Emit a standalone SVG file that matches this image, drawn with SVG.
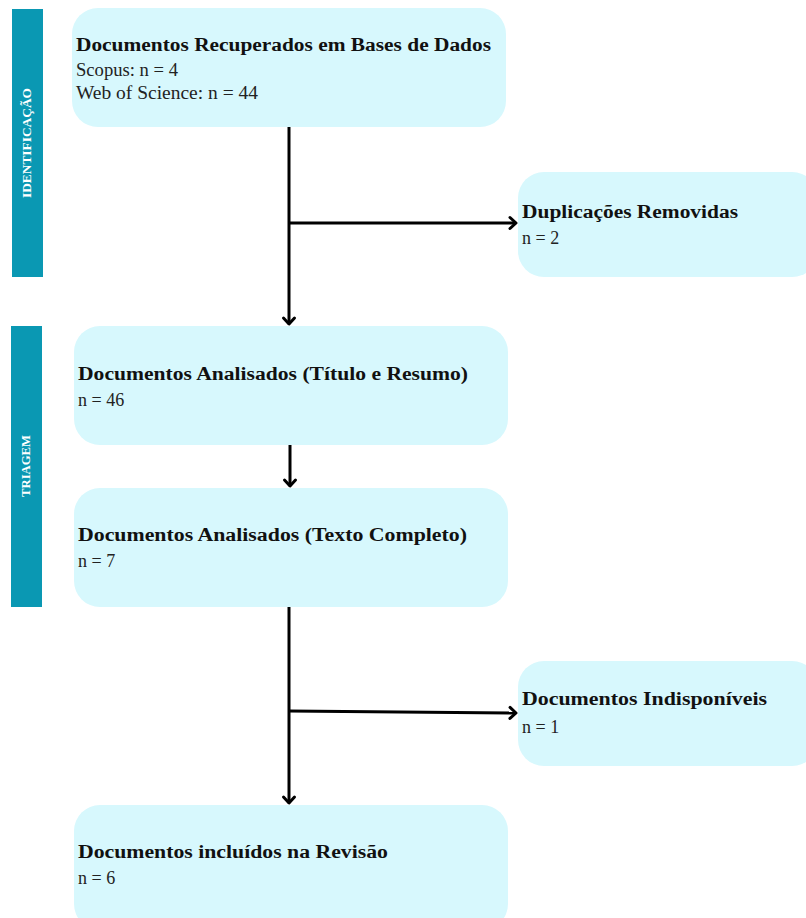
<svg xmlns="http://www.w3.org/2000/svg" width="806" height="918" viewBox="0 0 806 918">
<style>
.box{fill:#d7f8fd;}
.side{fill:#0a98b3;}
.side-t{font-family:"Liberation Serif",serif;font-size:12px;font-weight:bold;fill:#ffffff;text-anchor:middle;}
.t{font-family:"Liberation Serif",serif;font-size:18.5px;font-weight:bold;fill:#111;}
.s{font-family:"Liberation Serif",serif;font-size:18px;fill:#222;}
.c{fill:none;stroke:#000;stroke-width:3;}
</style>
<defs>
<marker id="ah" markerWidth="14" markerHeight="14" refX="8" refY="7" orient="auto" markerUnits="userSpaceOnUse" overflow="visible">
<polyline points="2,1.5 8,7 2,12.5" fill="none" stroke="#000" stroke-width="3" stroke-linecap="round" stroke-linejoin="round"/>
</marker>
</defs>
<g id="side-identificacao">
<rect class="side" x="12" y="9" width="31" height="268"/>
<text class="side-t" transform="translate(31,143) rotate(-90)" textLength="110" lengthAdjust="spacingAndGlyphs">IDENTIFICAÇÃO</text>
</g>
<g id="side-triagem">
<rect class="side" x="11" y="326" width="31" height="281"/>
<text class="side-t" transform="translate(30,466) rotate(-90)" textLength="62" lengthAdjust="spacingAndGlyphs">TRIAGEM</text>
</g>
<g id="connectors">
<path class="c" d="M289,127 V324" marker-end="url(#ah)"/>
<path class="c" d="M289,223 H516" marker-end="url(#ah)"/>
<path class="c" d="M290,445 V486" marker-end="url(#ah)"/>
<path class="c" d="M289,607 V803" marker-end="url(#ah)"/>
<path class="c" d="M289,711 L516,713" marker-end="url(#ah)"/>
</g>
<g id="n-recuperados">
<rect class="box" x="72" y="8" width="434" height="119" rx="26"/>
<text class="t" x="76" y="51" textLength="415" lengthAdjust="spacingAndGlyphs">Documentos Recuperados em Bases de Dados</text>
<text class="s" x="76" y="76" textLength="102" lengthAdjust="spacingAndGlyphs">Scopus: n = 4</text>
<text class="s" x="76" y="99" textLength="182" lengthAdjust="spacingAndGlyphs">Web of Science: n = 44</text>
</g>
<g id="n-duplicacoes">
<rect class="box" x="518" y="172" width="300" height="105" rx="26"/>
<text class="t" x="522" y="218" textLength="216" lengthAdjust="spacingAndGlyphs">Duplicações Removidas</text>
<text class="s" x="522" y="244">n = 2</text>
</g>
<g id="n-titulo">
<rect class="box" x="74" y="326" width="434" height="119" rx="26"/>
<text class="t" x="78" y="380" textLength="390" lengthAdjust="spacingAndGlyphs">Documentos Analisados (Título e Resumo)</text>
<text class="s" x="78" y="406">n = 46</text>
</g>
<g id="n-texto">
<rect class="box" x="74" y="488" width="434" height="119" rx="26"/>
<text class="t" x="78" y="541" textLength="389" lengthAdjust="spacingAndGlyphs">Documentos Analisados (Texto Completo)</text>
<text class="s" x="78" y="567">n = 7</text>
</g>
<g id="n-indisponiveis">
<rect class="box" x="518" y="661" width="300" height="105" rx="26"/>
<text class="t" x="522" y="705" textLength="245" lengthAdjust="spacingAndGlyphs">Documentos Indisponíveis</text>
<text class="s" x="522" y="733">n = 1</text>
</g>
<g id="n-incluidos">
<rect class="box" x="74" y="805" width="434" height="125" rx="26"/>
<text class="t" x="78" y="858" textLength="310" lengthAdjust="spacingAndGlyphs">Documentos incluídos na Revisão</text>
<text class="s" x="78" y="884">n = 6</text>
</g>
</svg>
